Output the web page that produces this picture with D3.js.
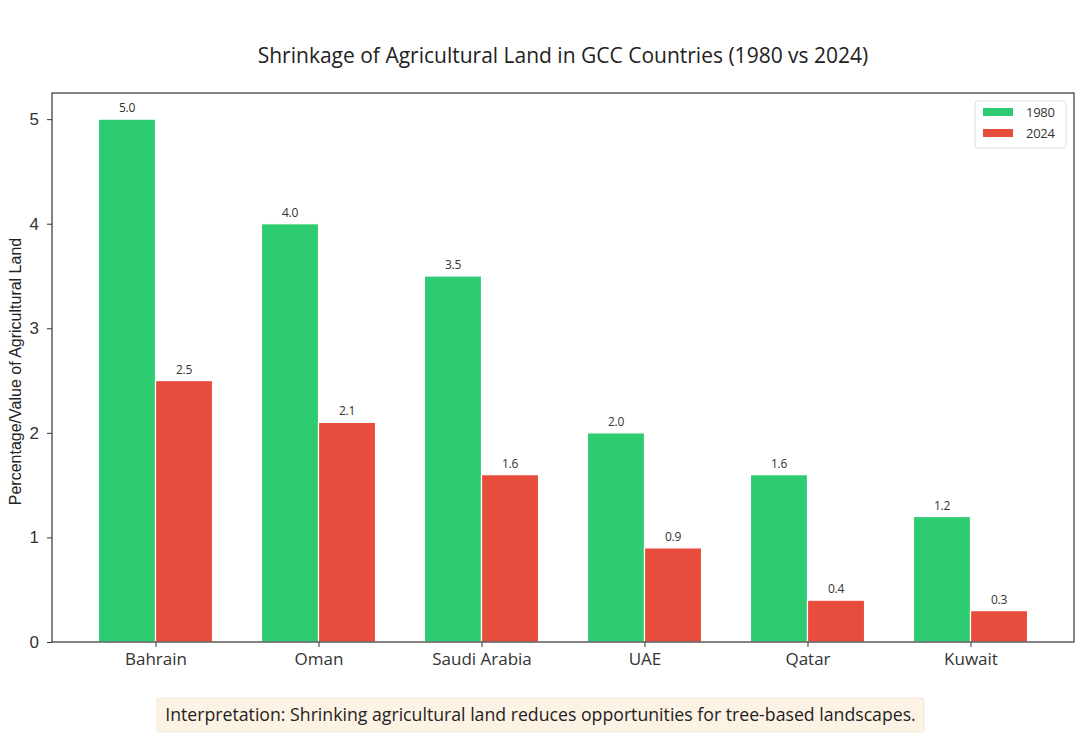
<!DOCTYPE html>
<html>
<head>
<meta charset="utf-8">
<script src="https://cdn.jsdelivr.net/npm/d3@7"></script>
<style>
  body { margin: 0; background: #fff; }
  svg { display: block; }
</style>
</head>
<body>
<div id="chart"></div>
<script>
// chart data
var countries = ["Bahrain", "Oman", "Saudi Arabia", "UAE", "Qatar", "Kuwait"];
var values1980 = [5.0, 4.0, 3.5, 2.0, 1.6, 1.2];
var values2024 = [2.5, 2.1, 1.6, 0.9, 0.4, 0.3];
var seriesNames = ["1980", "2024"];
var yTicks = [0, 1, 2, 3, 4, 5];

var width = 1080, height = 756;
// plot area (note: "top" is a reserved window prop, so use plot* names)
var plotLeft = 52, plotRight = 1074, plotTop = 93, plotBottom = 642;
var barW = 0.35;
var colors = {"1980": "#2ecc71", "2024": "#e74c3c"};
var uiFont = "'Open Sans', Lato, sans-serif";
var axFont = "'Liberation Sans', Arial, sans-serif";

var svg = d3.select("#chart")
  .append("svg")
    .attr("width", width)
    .attr("height", height);

// x is a linear index scale, like matplotlib's positions
var x = d3.scaleLinear()
  .domain([-0.635, countries.length - 1 + 0.635])
  .range([plotLeft, plotRight]);

var y = d3.scaleLinear()
  .domain([0, 5.25])
  .range([plotBottom, plotTop]);

var bars = [];
countries.forEach(function(c, i) {
  bars.push({series: "1980", i: i, v: values1980[i], x0: i - barW});
  bars.push({series: "2024", i: i, v: values2024[i], x0: i});
});

svg.selectAll(".bar")
    .data(bars)
  .enter()
    .append("rect")
    .attr("class", "bar")
    .attr("x", function(d) { return x(d.x0); })
    .attr("y", function(d) { return y(d.v); })
    .attr("width", function(d) { return x(d.x0 + barW) - x(d.x0); })
    .attr("height", function(d) { return y(0) - y(d.v); })
    .attr("fill", function(d) { return colors[d.series]; })
    .attr("stroke", "#fff")
    .attr("stroke-width", 1.2);

// value labels above bars
svg.selectAll(".vlabel")
    .data(bars)
  .enter()
    .append("text")
    .attr("class", "vlabel")
    .attr("x", function(d) { return x(d.x0 + barW / 2); })
    .attr("y", function(d) { return y(d.v) - 7; })
    .attr("text-anchor", "middle")
    .attr("font-family", uiFont)
    .attr("font-size", "12px")
    .attr("letter-spacing", "-0.3px")
    .attr("fill", "#333")
    .text(function(d) { return d.v.toFixed(1); });

// axes
var xAxis = d3.axisBottom(x)
  .tickValues(d3.range(countries.length))
  .tickFormat(function(d) { return countries[d]; })
  .tickSize(5)
  .tickPadding(6);

var gx = svg.append("g")
  .attr("transform", "translate(0," + plotBottom + ")")
  .call(xAxis);
gx.select(".domain").remove();
gx.selectAll("text")
  .attr("font-family", uiFont)
  .attr("font-size", "17px")
  .attr("fill", "#333");
gx.selectAll("line").attr("stroke", "#333");

var yAxis = d3.axisLeft(y)
  .tickValues(yTicks)
  .tickFormat(d3.format("d"))
  .tickSize(5)
  .tickPadding(8);

var gy = svg.append("g")
  .attr("transform", "translate(" + plotLeft + ",0)")
  .call(yAxis);
gy.select(".domain").remove();
gy.selectAll("text")
  .attr("font-family", axFont)
  .attr("font-size", "17px")
  .attr("fill", "#333");
gy.selectAll("line").attr("stroke", "#333");

// plot frame
svg.append("rect")
  .attr("x", plotLeft)
  .attr("y", plotTop)
  .attr("width", plotRight - plotLeft)
  .attr("height", plotBottom - plotTop)
  .attr("fill", "none")
  .attr("stroke", "#333")
  .attr("stroke-width", 1.2);

// title
svg.append("text")
  .attr("x", (plotLeft + plotRight) / 2)
  .attr("y", 63)
  .attr("text-anchor", "middle")
  .attr("font-family", uiFont)
  .attr("font-size", "21px")
  .attr("fill", "#222")
  .text("Shrinkage of Agricultural Land in GCC Countries (1980 vs 2024)");

// y label
svg.append("text")
  .attr("transform", "translate(21," + ((plotTop + plotBottom) / 2 + 4) + ") rotate(-90)")
  .attr("text-anchor", "middle")
  .attr("font-family", axFont)
  .attr("font-size", "16px")
  .attr("fill", "#222")
  .text("Percentage/Value of Agricultural Land");

// legend
var lg = svg.append("g").attr("transform", "translate(975,101)");
lg.append("rect")
  .attr("width", 91)
  .attr("height", 47)
  .attr("rx", 3)
  .attr("fill", "#fff")
  .attr("stroke", "#ddd");
seriesNames.forEach(function(s, k) {
  lg.append("rect")
    .attr("x", 8)
    .attr("y", 7 + k * 21)
    .attr("width", 30)
    .attr("height", 8)
    .attr("fill", colors[s]);
  lg.append("text")
    .attr("x", 51)
    .attr("y", 16 + k * 21)
    .attr("font-family", uiFont)
    .attr("font-size", "13px")
    .attr("letter-spacing", "-0.3px")
    .attr("fill", "#333")
    .text(s);
});

// interpretation box
var note = "Interpretation: Shrinking agricultural land reduces opportunities for tree-based landscapes.";
svg.append("rect")
  .attr("x", 157)
  .attr("y", 698)
  .attr("width", 767)
  .attr("height", 34)
  .attr("rx", 2)
  .attr("fill", "#fdf3e4")
  .attr("stroke", "#f1e6d6");
svg.append("text")
  .attr("x", 540.5)
  .attr("y", 721)
  .attr("text-anchor", "middle")
  .attr("font-family", uiFont)
  .attr("font-size", "17.7px")
  .attr("fill", "#222")
  .text(note);
</script>
</body>
</html>
